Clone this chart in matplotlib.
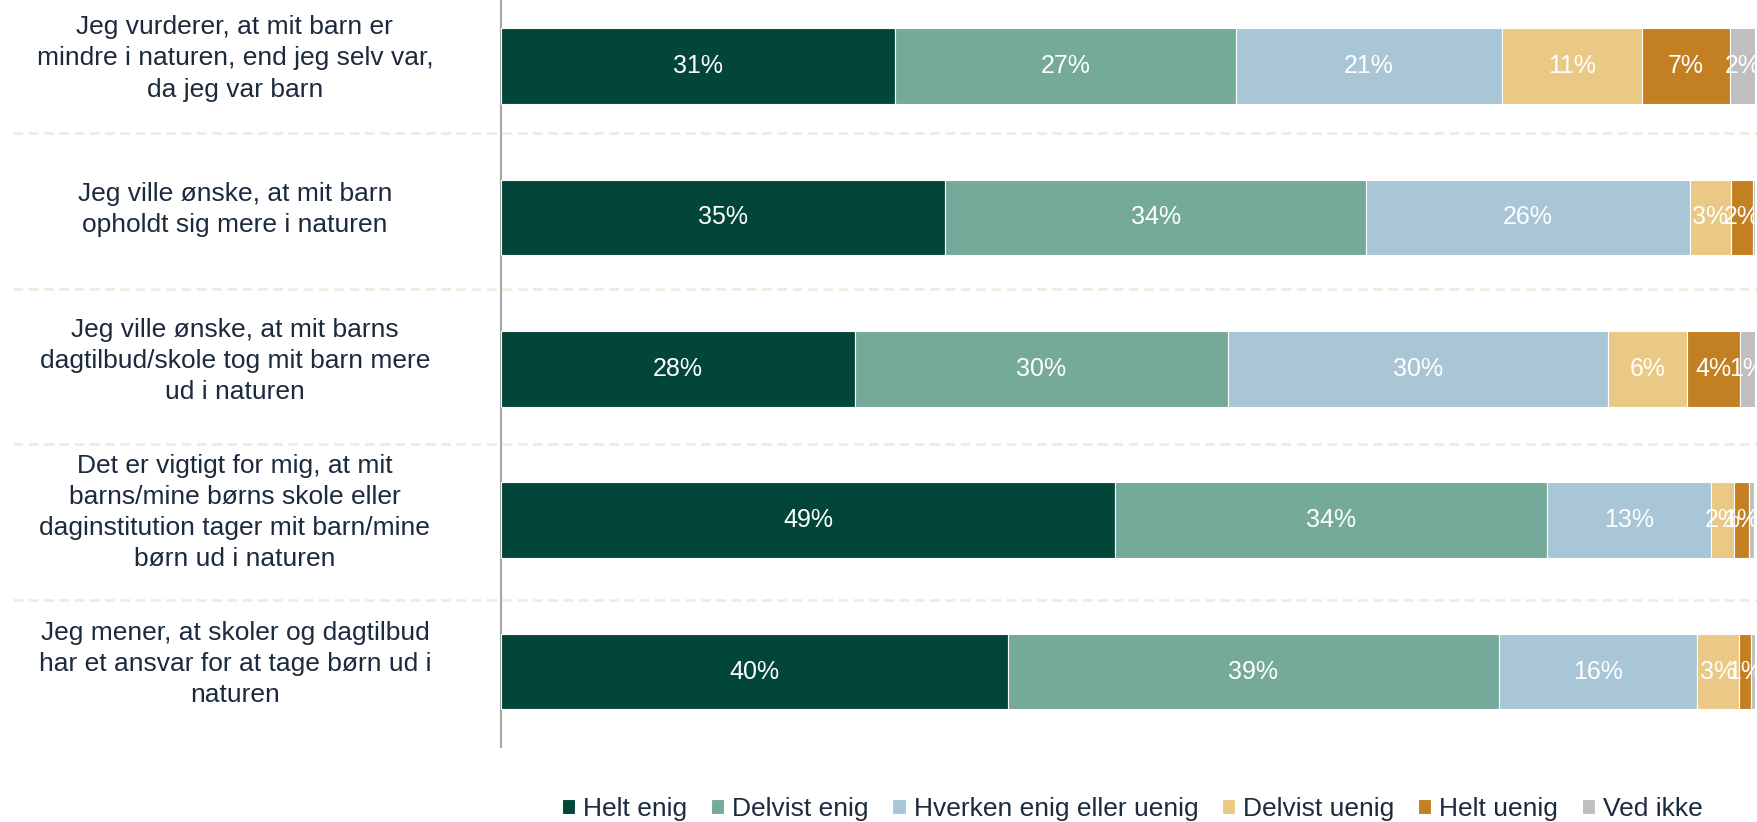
import matplotlib.pyplot as plt
from matplotlib.lines import Line2D
from matplotlib.transforms import blended_transform_factory

plt.rcParams['font.family'] = ['Liberation Sans', 'DejaVu Sans']

# statements (top to bottom)
statements = [
    "Jeg vurderer, at mit barn er\nmindre i naturen, end jeg selv var,\nda jeg var barn",
    "Jeg ville ønske, at mit barn\nopholdt sig mere i naturen",
    "Jeg ville ønske, at mit barns\ndagtilbud/skole tog mit barn mere\nud i naturen",
    "Det er vigtigt for mig, at mit\nbarns/mine børns skole eller\ndaginstitution tager mit barn/mine\nbørn ud i naturen",
    "Jeg mener, at skoler og dagtilbud\nhar et ansvar for at tage børn ud i\nnaturen",
]
answers = ["Helt enig", "Delvist enig", "Hverken enig eller uenig",
           "Delvist uenig", "Helt uenig", "Ved ikke"]

# shares in percent, one list per answer category (same order as statements)
helt_enig = [31.4, 35.4, 28.2, 49.0, 40.4]
delvist_enig = [27.2, 33.6, 29.8, 34.4, 39.2]
hverken = [21.2, 25.8, 30.3, 13.1, 15.8]
delvist_uenig = [11.2, 3.3, 6.3, 1.8, 3.3]
helt_uenig = [7.0, 1.7, 4.2, 1.2, 1.0]
ved_ikke = [2.0, 0.2, 1.2, 0.45, 0.3]

series = [helt_enig, delvist_enig, hverken, delvist_uenig, helt_uenig, ved_ikke]
colors = ["#02463A", "#75A99A", "#A8C6D6", "#EAC885", "#C38022", "#BFBFBF"]
text_col = "#1B2A3D"

fig = plt.figure(figsize=(17.57, 8.22), dpi=100)
ax = fig.add_axes([0.2851, 0.0910, 0.7138, 0.9207])
ax.patch.set_visible(False)

ypos = list(range(len(statements)))
left = [0.0] * len(statements)
for name, vals, col in zip(answers, series, colors):
    bars = ax.barh(ypos, vals, left=left, height=0.5, color=col,
                   edgecolor="white", linewidth=0.8, label=name, zorder=3)
    for b, v in zip(bars, vals):
        r = round(v)
        if r >= 1:
            ax.text(b.get_x() + b.get_width() / 2, b.get_y() + b.get_height() / 2,
                    f"{r}%", ha="center", va="center", color="white",
                    fontsize=18, zorder=4, clip_on=False)
    left = [l + v for l, v in zip(left, vals)]

ax.set_xlim(0, 100)
ax.set_ylim(4.5, -0.5)
ax.set_xticks([])
ax.set_yticks([])
for s in ["top", "right", "bottom"]:
    ax.spines[s].set_visible(False)
ax.spines["left"].set_color("#A6A6A6")
ax.spines["left"].set_linewidth(1.5)

# statement labels, centred in the left margin
trans = blended_transform_factory(fig.transFigure, ax.transData)
for y, s in zip(ypos, statements):
    ax.text(0.1337, y - 0.05, s, transform=trans, ha="center", va="center",
            multialignment="center", fontsize=19, color=text_col,
            linespacing=1.38, clip_on=False)

# dashed separators between rows
for yp in [133, 289, 444, 600]:
    fy = 1 - yp / 822
    fig.add_artist(Line2D([13 / 1757, 1.0], [fy, fy], transform=fig.transFigure,
                          color="#EFEBDF", linewidth=2, linestyle=(0, (3.5, 2)),
                          zorder=-1))

handles, labels = ax.get_legend_handles_labels()
fig.legend(handles, labels, loc="center", bbox_to_anchor=(0.6445, 0.0158),
           ncol=6, frameon=False, fontsize=19, handlelength=0.5,
           handleheight=0.5, handletextpad=0.3, columnspacing=0.9,
           labelcolor=text_col)

fig.savefig("out.png", dpi=100)
